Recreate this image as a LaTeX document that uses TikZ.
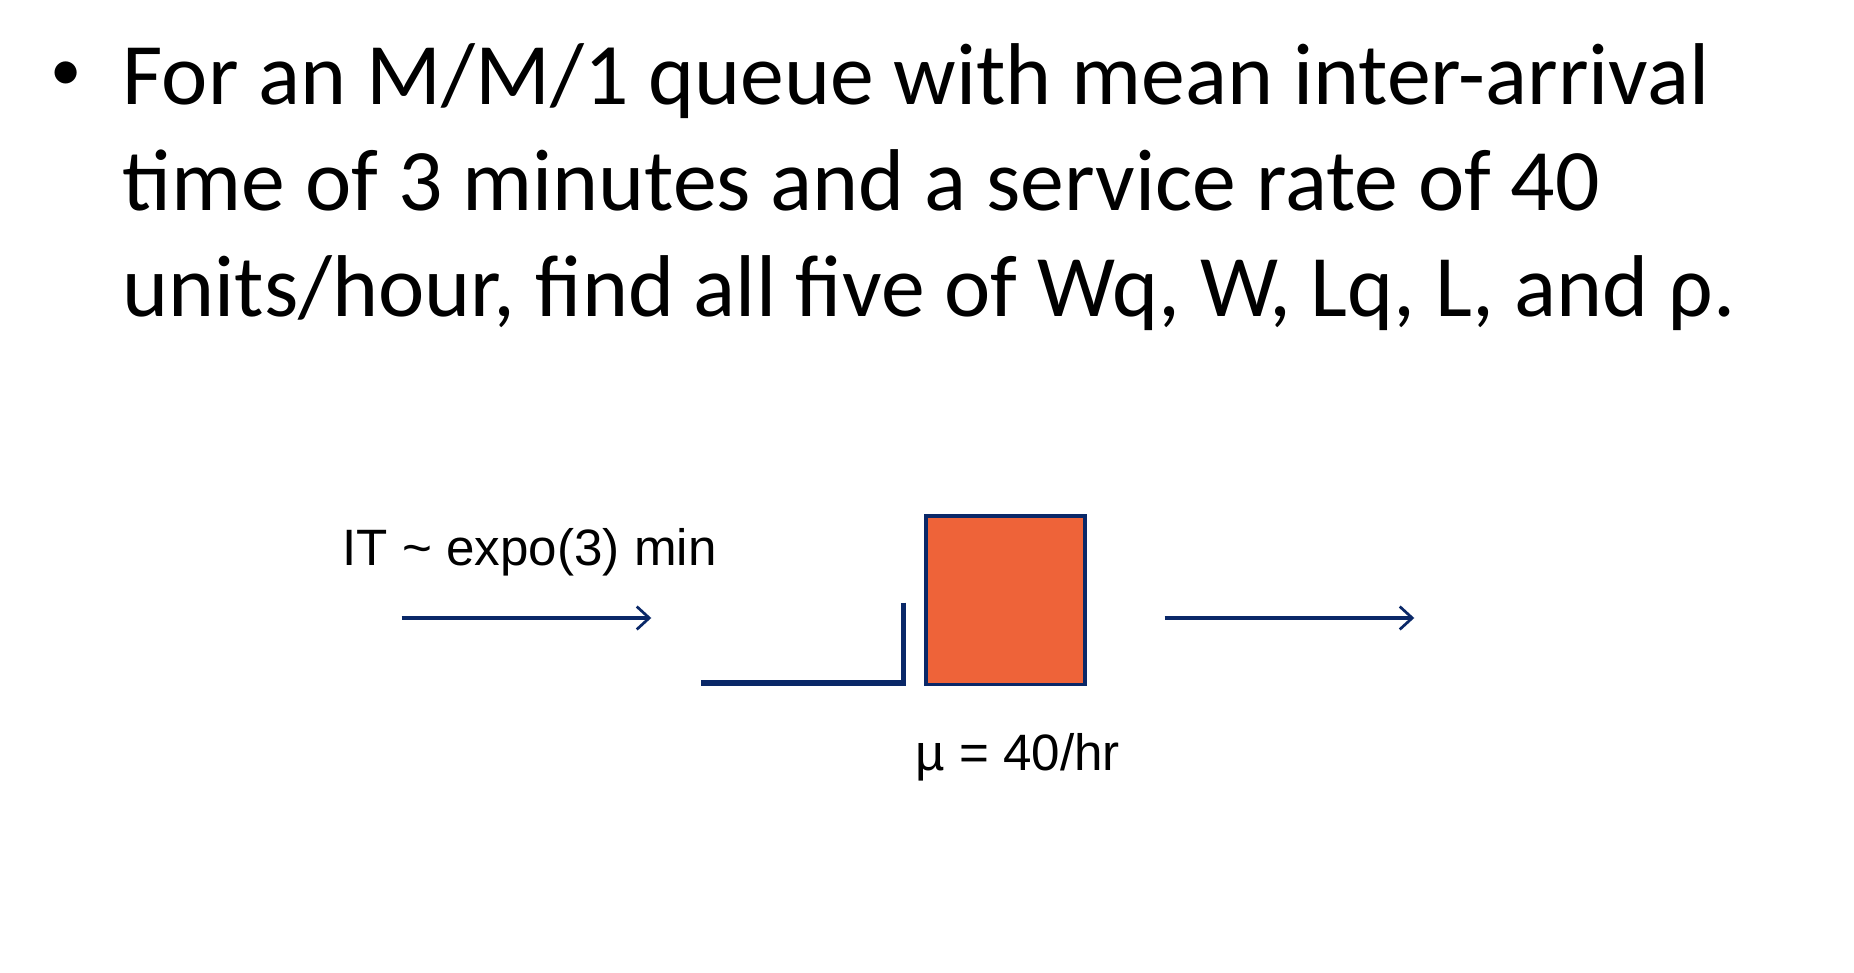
\documentclass[tikz,border=0pt]{standalone}
\usepackage{fontspec}
\setmainfont{Carlito}
\newfontfamily\arial{Liberation Sans}
\usetikzlibrary{arrows.meta}
\definecolor{navy}{HTML}{0A2868}
\definecolor{boxor}{HTML}{EE6339}
\begin{document}
\begin{tikzpicture}[x=0.02cm,y=-0.02cm,
  flow/.style={draw=navy,line width=1.5pt,-{Straight Barb[length=6pt,width=11pt,line width=1.3pt]}},
  big/.style={inner sep=0pt,anchor=base west,font=\fontsize{42}{50.5}\selectfont},
  lbl/.style={font=\arial\fontsize{24.5}{28}\selectfont,inner sep=0pt,anchor=base west}]
\useasboundingbox (0,0) rectangle (1560,818);
\node[big,font=\fontsize{30}{30}\selectfont] (bul) at (42,76) {•};
\node[big] (t1) at (103,88) {For an M/M/1 queue with mean inter-arrival};
\node[big] (t2) at (103,177) {time of 3 minutes and a service rate of 40};
\node[big] (t3) at (103,266) {units/hour, find all five of Wq, W, Lq, L, and ρ.};
\node[lbl] (it) at (288,476) {IT \textasciitilde\ expo(3) min};
\node[lbl] (mu) at (770,648) {µ = 40/hr};
\coordinate (a1) at (338,520); \coordinate (a2) at (548,520);
\coordinate (b1) at (980,520); \coordinate (b2) at (1190,520);
\draw[flow] (a1) -- (a2);
\draw[flow] (b1) -- (b2);
\coordinate (q1) at (590,575); \coordinate (q2) at (760,575); \coordinate (q3) at (760,507);
\draw[navy,line width=2.8pt] (q1) -- (q2);
\draw[navy,line width=2.2pt] (q3) -- (760,577);
\node[draw=navy,fill=boxor,line width=1.7pt,minimum width=134*0.02cm,minimum height=142*0.02cm,inner sep=0pt] (srv) at (846,505) {};
\end{tikzpicture}
\end{document}
